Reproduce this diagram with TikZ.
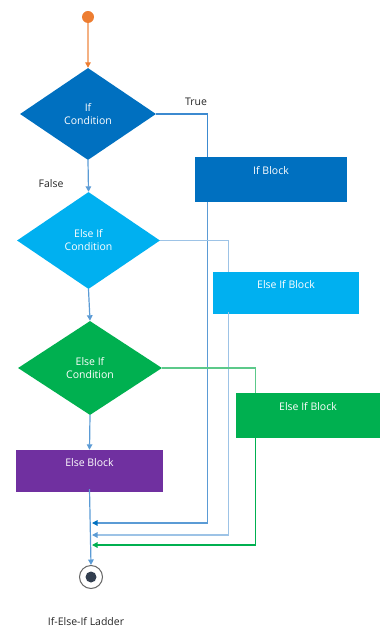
\documentclass[tikz,border=0pt]{standalone}
\usepackage{fontspec}
\setmainfont{Open Sans}
\usepackage{xcolor}
\usetikzlibrary{positioning,arrows.meta,shapes.geometric}
\definecolor{startorange}{HTML}{ED7D31}
\definecolor{lineorange}{HTML}{F4B183}
\definecolor{ifblue}{HTML}{0070C0}
\definecolor{trueblue}{HTML}{3C8AD0}
\definecolor{elifblue}{HTML}{00B0F0}
\definecolor{elifgreen}{HTML}{00B050}
\definecolor{elsepurple}{HTML}{7030A0}
\definecolor{trunkblue}{HTML}{5B9BD5}
\definecolor{paleblue}{HTML}{9DC3E6}
\definecolor{palegreen}{HTML}{5CC98A}
\definecolor{stopdark}{HTML}{333F50}

\begin{document}
\begin{tikzpicture}[x=1pt, y=-1pt, font=\fontsize{10.5}{13}\selectfont,
  >={Triangle[length=5.5pt,width=5.5pt]}]
\useasboundingbox (0,0) rectangle (380,628);
\tikzstyle{cond}=[diamond, inner sep=0pt, align=center, text=white,
  minimum width=140pt, minimum height=94pt]
\tikzstyle{blockbox}=[rectangle, inner sep=0pt, text=white,
  text height=16pt, text depth=26pt, minimum height=42pt]
\tikzstyle{flow}=[line width=1.2pt]
\tikzstyle{lbl}=[inner sep=0pt, text=black!85]
\node[circle, fill=startorange, minimum size=12pt, inner sep=0pt] (start) at (88,17) {};
\node[cond, fill=ifblue, minimum width=136pt, minimum height=92pt] (cond1) at (88,114) {If\\Condition};
\node[blockbox, fill=ifblue, minimum width=152pt, minimum height=45pt] (ifblk) at (271,179.5) {If Block};
\node[cond, fill=elifblue, minimum width=143pt, minimum height=97pt] (cond2) at (88.5,240.5) {Else If\\Condition};
\node[blockbox, fill=elifblue, minimum width=146pt] (elifblk1) at (286,293) {Else If Block};
\node[cond, fill=elifgreen, minimum width=144pt, minimum height=94pt] (cond3) at (90,368) {Else If\\Condition};
\node[blockbox, fill=elifgreen, minimum width=144pt, minimum height=45pt] (elifblk2) at (308,415.5) {Else If Block};
\node[blockbox, fill=elsepurple, minimum width=147pt, minimum height=40pt] (elseblk) at (89.5,471) {Else Block};
\node[circle, draw=black!60, line width=1pt, fill=white, minimum size=23pt, inner sep=0pt] (stop) at (91,577) {};
\node[circle, fill=stopdark, minimum size=11pt, inner sep=0pt] (stopdot) at (stop) {};
\node[lbl] (ltrue) at (196,102) {True};
\node[lbl] (lfalse) at (51,184) {False};
\node[lbl] (caption) at (86,622) {If-Else-If Ladder};
\coordinate (ret1) at (92,523);
\coordinate (ret2) at (92,535);
\coordinate (ret3) at (92,545);
\draw[flow, lineorange, -{Triangle[length=5.5pt,width=5.5pt,color=startorange]}] (start) -- (cond1.north);
\draw[flow, trueblue] (cond1.east) -| ([xshift=13pt]ifblk.north west);
\draw[flow, trunkblue, -{Triangle[length=5.5pt,width=5.5pt,color=ifblue]}] ([xshift=13pt]ifblk.south west) |- (ret1);
\draw[flow, trunkblue, ->] (cond1.south) -- (cond2.north);
\draw[flow, paleblue] (cond2.east) -| ([xshift=16pt]elifblk1.north west);
\draw[flow, paleblue, -{Triangle[length=5.5pt,width=5.5pt,color=trunkblue]}] ([xshift=16pt,yshift=2pt]elifblk1.south west) |- (ret2);
\draw[flow, trunkblue, ->] (cond2.south) -- (cond3.north);
\draw[flow, palegreen] (cond3.east) -| ([xshift=20pt]elifblk2.north west);
\draw[flow, elifgreen, ->] ([xshift=20pt]elifblk2.south west) |- (ret3);
\draw[flow, trunkblue, ->] (cond3.south) -- (elseblk.north);
\draw[flow, trunkblue, ->] ([yshift=3pt]elseblk.south) -- (stop.north);
\end{tikzpicture}
\end{document}
